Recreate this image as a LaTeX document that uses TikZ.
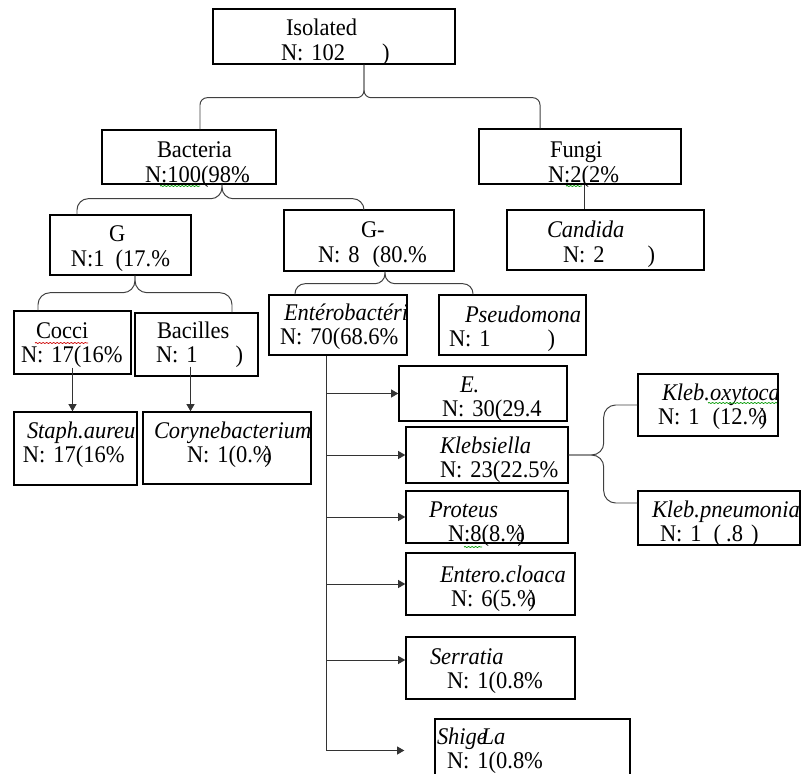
\documentclass[tikz,border=0pt]{standalone}
\usepackage{fontspec}
\setmainfont{Liberation Serif}[FakeStretch=0.94]
\usetikzlibrary{arrows.meta,calc,decorations.pathmorphing}

\newlength{\px}
\setlength{\px}{0.025cm}
\newcommand{\cellfont}{\fontsize{17}{17.4}\selectfont}
\newcommand{\tline}[2]{\mbox{\hspace*{#1\px}#2}}

\tikzset{
  cell/.style n args={3}{draw, line width=1pt, inner sep=0pt, text width=#1\px,
    text height=#2\px, text depth=#3\px, align=left, font=\cellfont},
  fork/.style={draw=black!75, line width=0.7pt, rounded corners=#1},
  fork/.default=0.28cm,
  link/.style={draw=black!80, line width=0.7pt},
  arrow/.style={link, -{Triangle[length=1.8mm,width=2mm]}},
  squiggle/.style={decorate, decoration={snake, amplitude=0.4pt, segment length=2.5pt}, line width=0.5pt},
}

\begin{document}
\begin{tikzpicture}[x=0.025cm, y=-0.025cm]
    \useasboundingbox (0,0) rectangle (801,774);

    % boxes
    \node[cell={242}{27}{28}] (iso) at (334,36.5) {\tline{73}{Isolated}\\\tline{68}{N: 102\hspace{37\px})}};
    \node[cell={174}{28}{26}] (bact) at (189,157) {\tline{55}{Bacteria}\\\tline{43}{N:100(98\%}};
    \node[cell={202}{29}{26}] (fungi) at (580,156.5) {\tline{71}{Fungi}\\\tline{69}{N:2(2\%}};
    \node[cell={141}{27}{33}] (gpos) at (120.5,245) {\tline{59}{G}\\\tline{21}{N:1\hspace{11\px}(17.\%}};
    \node[cell={170}{28}{33}] (gneg) at (369,240.5) {\tline{77}{G-}\\\tline{34}{N: 8\hspace{13\px}(80.\%}};
    \node[cell={197}{28}{32}] (candida) at (605.5,240) {\tline{40}{\textit{Candida}}\\\tline{56}{N: 2\hspace{43\px})}};
    \node[cell={117}{27}{36}] (cocci) at (72.5,342.5) {\tline{22}{Cocci}\\\tline{7}{N: 17(16\%}};
    \node[cell={123}{25}{38}] (bacil) at (196.5,344.5) {\tline{22}{Bacilles}\\\tline{21}{N: 1\hspace{38\px})}};
    \node[cell={123}{26}{47}] (staph) at (75.5,448.5) {\tline{13}{\textit{Staph.aureu}}\\\tline{9}{N: 17(16\%}};
    \node[cell={168}{26}{46}] (coryne) at (227,448) {\tline{11}{\textit{Corynebacterium}}\\\tline{44}{N: 1(0.\%\llap{)}}};
    \node[cell={138}{25}{35}] (entero) at (338,325) {\tline{15}{\textit{Entérobactéri}}\\\tline{11}{N: 70(68.6\%}};
    \node[cell={147}{27}{33}] (pseudo) at (512.5,325) {\tline{26}{\textit{Pseudomona}}\\\tline{10}{N: 1\hspace{57\px})}};
    \node[cell={168}{26}{29}] (ecoli) at (483,393.5) {\tline{61}{\textit{E.}}\\\tline{43}{N: 30(29.4}};
    \node[cell={162}{26}{30}] (klebs) at (487,455) {\tline{34}{\textit{Klebsiella}}\\\tline{34}{N: 23(22.5\%}};
    \node[cell={140}{26}{36}] (oxy) at (708,405) {\tline{24}{\textit{Kleb.oxytoca}}\\\tline{20}{N: 1\hspace{13\px}(12.\%\llap{)}}};
    \node[cell={162}{26}{28}] (pneu) at (719,518) {\tline{14}{\textit{Kleb.pneumonia}}\\\tline{22}{N: 1\hspace{12\px}(\hspace{5\px}.8\hspace{8\px})}};
    \node[cell={162}{26}{26}] (proteus) at (487,517) {\tline{23}{\textit{Proteus}}\\\tline{42}{N:8(8.\%\llap{)}}};
    \node[cell={169}{29}{33}] (cloaca) at (490.5,584) {\tline{34}{\textit{Entero.cloaca}}\\\tline{45}{N: 6(5.\%\llap{)}}};
    \node[cell={169}{27}{35}] (serratia) at (490.5,668) {\tline{24}{\textit{Serratia}}\\\tline{41}{N: 1(0.8\%}};
    \node[cell={195}{25}{38}] (shigella) at (532.5,750.5) {\tline{2}{\textit{Shig\rlap{e}\hspace{0.2em}La}}\\\tline{12}{N: 1(0.8\%}};

    % braces
    \draw[fork=0.18cm] (iso.south -| 364,0) -- ++(0,33) -| (bact.north -| 200,0);
    \draw[fork=0.18cm] (iso.south -| 364,0) -- ++(0,33) -| (fungi.north -| 540,0);
    \draw[fork] (bact.south -| 222,0) -- ++(0,14) -| (gpos.north -| 77,0);
    \draw[fork] (bact.south -| 222,0) -- ++(0,14) -| (gneg.north -| 364,0);
    \draw[fork=0.3cm] (gpos.south -| 135,0) -- ++(0,17) -| (cocci.north -| 38,0);
    \draw[fork=0.3cm] (gpos.south -| 135,0) -- ++(0,17) -| (bacil.north -| 232,0);
    \draw[fork=0.25cm] (gneg.south -| 385,0) -- ++(0,12) -| (entero.north -| 295,0);
    \draw[fork=0.25cm] (gneg.south -| 385,0) -- ++(0,12) -| (pseudo.north -| 473,0);
    \draw[fork=0.3cm] (klebs.east) -- ++(35,0) |- (oxy.west);
    \draw[fork=0.3cm] (klebs.east) -- ++(35,0) |- ($(pneu.west)+(0,-15)$);

    % straight links
    \coordinate (fungout) at ([xshift=0.1cm]fungi.south);
    \draw[link] (fungout) -- (fungout |- candida.north);
    \draw[arrow] ([yshift=0.175cm]cocci.south) -- (cocci.south |- staph.north);
    \coordinate (bacout) at ([shift={(-6,-10)}]bacil.south);
    \draw[arrow] (bacout) -- (bacout |- coryne.north);

    % enterobacteria trunk
    \coordinate (trunk) at (326,0);
    \draw[arrow] (entero.south -| trunk) |- ([xshift=-0.75cm]shigella.west);
    \foreach \n in {ecoli,klebs,proteus,cloaca}
        \draw[arrow] (trunk |- \n.west) -- (\n.west);
    \coordinate (serin) at ([yshift=0.2cm]serratia.west);
    \draw[arrow] (trunk |- serin) -- (serin);

    % spell-check marks
    \draw[squiggle, green!60!black] (160,186) -- (200,186);
    \draw[squiggle, green!60!black] (566,186) -- (582,186);
    \draw[squiggle, red!80!black] (35,343) -- (88,343);
    \draw[squiggle, green!60!black] (708,403) -- (777,403);
    \draw[squiggle, green!60!black] (464,547) -- (482,547);
\end{tikzpicture}
\end{document}
